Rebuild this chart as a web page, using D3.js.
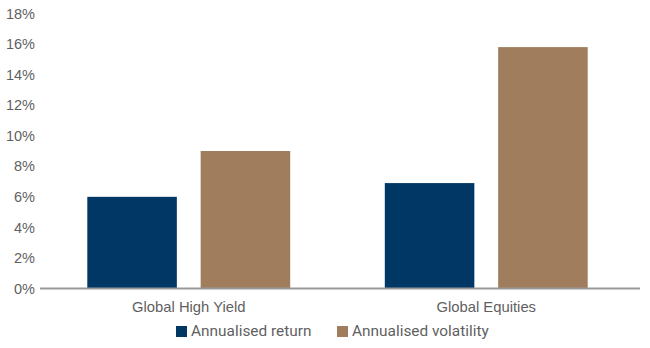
<!DOCTYPE html>
<html>
<head>
<meta charset="utf-8">
<script src="https://cdn.jsdelivr.net/npm/d3@7"></script>
<style>
  html, body { margin: 0; padding: 0; background: #fff; }
  svg { display: block; font-family: Roboto, "Open Sans", sans-serif; }
</style>
</head>
<body>
<svg id="chart" width="650" height="348"></svg>
<script>
// Asset classes and the two measured series (percent)
const categories = ["Global High Yield", "Global Equities"];
const seriesNames = ["Annualised return", "Annualised volatility"];
const returnValues = [6.0, 6.9];
const volatilityValues = [9.0, 15.8];
const yTicks = [0, 2, 4, 6, 8, 10, 12, 14, 16, 18];

const colors = ["#003764", "#A07D5C"];
const textColor = "#5f5f5f";

const svg = d3.select("#chart");
const margin = { left: 40, right: 15, top: 14, bottom: 60 };
const width = 650, height = 348;
const plotBottom = 288.5;

const x0 = d3.scaleBand()
  .domain(categories)
  .range([margin.left, width - margin.right])
  .paddingInner(0.318)
  .paddingOuter(0.159);

const x1 = d3.scaleBand()
  .domain(seriesNames)
  .range([0, x0.bandwidth()])
  .paddingInner(0.21)
  .paddingOuter(0);

const y = d3.scaleLinear()
  .domain([0, 18])
  .range([plotBottom, 13.5]);

const rows = categories.map((c, i) => ({
  category: c,
  values: [returnValues[i], volatilityValues[i]]
}));

// Y axis tick labels (no axis line, no tick marks)
const yAxis = d3.axisLeft(y)
  .tickValues(yTicks)
  .tickFormat(d => d + "%")
  .tickSize(0)
  .tickPadding(5);

const gy = svg.append("g")
  .attr("transform", `translate(${margin.left},0)`)
  .call(yAxis);
gy.select(".domain").remove();
gy.selectAll("text")
  .attr("fill", textColor)
  .style("font-size", "14.5px");

// Bars
const groups = svg.append("g")
  .selectAll("g")
  .data(rows)
  .join("g")
  .attr("transform", d => `translate(${x0(d.category)},0)`);

groups.selectAll("rect")
  .data(d => d.values.map((v, i) => ({ name: seriesNames[i], value: v, i })))
  .join("rect")
  .attr("x", d => x1(d.name))
  .attr("width", x1.bandwidth())
  .attr("y", d => y(d.value))
  .attr("height", d => y(0) - y(d.value))
  .attr("fill", d => colors[d.i]);

// X axis baseline and category labels
const xAxis = d3.axisBottom(x0).tickSize(0).tickPadding(13);
const gx = svg.append("g")
  .attr("transform", `translate(0,${plotBottom})`)
  .call(xAxis);
gx.select(".domain")
  .attr("stroke", "#999")
  .attr("stroke-width", 2)
  .attr("d", `M${margin.left},0H${width - 10}`);
gx.selectAll("text")
  .attr("fill", textColor)
  .style("font-size", "14.8px");

// Legend
const legendItems = [
  { name: seriesNames[0], color: colors[0], x: 176 },
  { name: seriesNames[1], color: colors[1], x: 337 }
];
const legend = svg.append("g").attr("transform", "translate(0,331)");
const li = legend.selectAll("g")
  .data(legendItems)
  .join("g")
  .attr("transform", d => `translate(${d.x},0)`);
li.append("rect")
  .attr("x", 0).attr("y", -5)
  .attr("width", 11).attr("height", 11)
  .attr("fill", d => d.color);
li.append("text")
  .attr("x", 15)
  .attr("y", 0)
  .attr("dy", "0.35em")
  .attr("fill", textColor)
  .style("font-size", "15.4px")
  .text(d => d.name);
</script>
</body>
</html>
